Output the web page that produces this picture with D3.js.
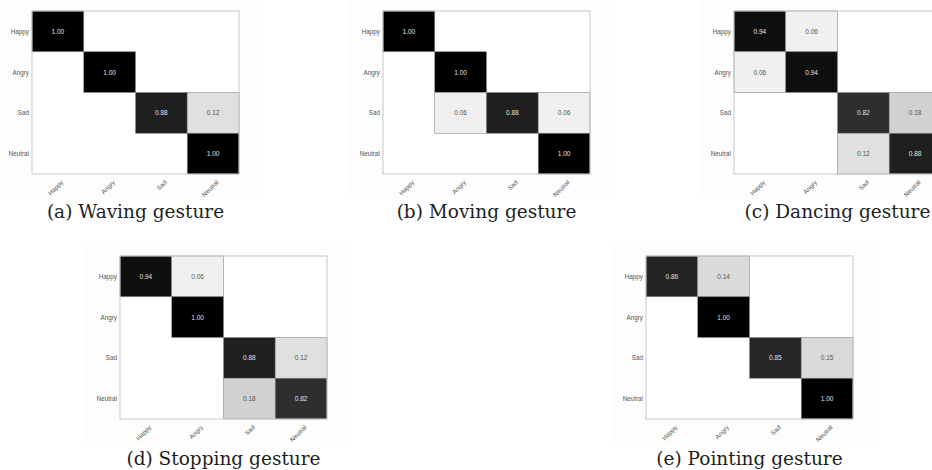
<!DOCTYPE html>
<html>
<head>
	<title></title>
	<style>
		body { margin: 0; background: #fff; }
	</style>
</head>
<body>

<svg id="fig" width="932" height="470"></svg>

<script src="https://d3js.org/d3.v7.min.js"></script>
<script>
	// -------------------------------------------------------------
	// Confusion matrices for the five gestures
	// -------------------------------------------------------------

	const classes = ['Happy', 'Angry', 'Sad', 'Neutral']

	// rows = true class, columns = predicted class
	const waving = [
		[1.00, 0, 0, 0],
		[0, 1.00, 0, 0],
		[0, 0, 0.88, 0.12],
		[0, 0, 0, 1.00]
	]
	const moving = [
		[1.00, 0, 0, 0],
		[0, 1.00, 0, 0],
		[0, 0.06, 0.88, 0.06],
		[0, 0, 0, 1.00]
	]
	const dancing = [
		[0.94, 0.06, 0, 0],
		[0.06, 0.94, 0, 0],
		[0, 0, 0.82, 0.18],
		[0, 0, 0.12, 0.88]
	]
	const stopping = [
		[0.94, 0.06, 0, 0],
		[0, 1.00, 0, 0],
		[0, 0, 0.88, 0.12],
		[0, 0, 0.18, 0.82]
	]
	const pointing = [
		[0.86, 0.14, 0, 0],
		[0, 1.00, 0, 0],
		[0, 0, 0.85, 0.15],
		[0, 0, 0, 1.00]
	]

	const captions = [
		'(a) Waving gesture',
		'(b) Moving gesture',
		'(c) Dancing gesture',
		'(d) Stopping gesture',
		'(e) Pointing gesture'
	]
	const matrices = [waving, moving, dancing, stopping, pointing]

	// where each plot box sits on the page
	const layout = [
		{ x: 32, y: 11, capY: 218 },
		{ x: 383, y: 11, capY: 218 },
		{ x: 734, y: 11, capY: 218 },
		{ x: 120, y: 256, capY: 465 },
		{ x: 646, y: 256, capY: 465 }
	]
	const W = 207
	const H = 163

	const svg = d3.select('#fig')

	// white -> black by value
	const fill = d3.scaleLinear().domain([0, 1]).range(['#ffffff', '#000000'])

	const x = d3.scaleBand().domain(classes).range([0, W])
	const y = d3.scaleBand().domain(classes).range([0, H])

	const sans = 'Liberation Sans, Arial, sans-serif'

	matrices.forEach((m, k) => {
		const pos = layout[k]
		const g = svg.append('g')
			.attr('transform', `translate(${pos.x}, ${pos.y})`)

		// very faint plot background
		g.append('rect')
			.attr('x', -35).attr('y', -11)
			.attr('width', W + 60).attr('height', H + 35)
			.attr('fill', '#fdfdfd')
		g.append('rect')
			.attr('width', W).attr('height', H)
			.attr('fill', '#fff')

		// flatten matrix into cells
		const cells = []
		m.forEach((row, i) => row.forEach((v, j) => {
			cells.push({ row: classes[i], col: classes[j], v: v })
		}))
		const filled = cells.filter(d => d.v > 0)

		g.selectAll('rect.cell')
			.data(filled)
			.enter()
			.append('rect')
			.attr('class', 'cell')
			.attr('x', d => x(d.col))
			.attr('y', d => y(d.row))
			.attr('width', x.bandwidth())
			.attr('height', y.bandwidth())
			.attr('fill', d => fill(d.v))
			.attr('stroke', '#8a8a8a')
			.attr('stroke-width', 0.6)

		g.selectAll('text.val')
			.data(filled)
			.enter()
			.append('text')
			.attr('class', 'val')
			.attr('x', d => x(d.col) + x.bandwidth() / 2)
			.attr('y', d => y(d.row) + y.bandwidth() / 2)
			.attr('text-anchor', 'middle')
			.attr('dominant-baseline', 'central')
			.attr('font-family', sans)
			.attr('font-size', 6.5)
			.attr('fill', d => d.v > 0.5 ? '#e0e0e0' : '#555')
			.text(d => d.v.toFixed(2))

		// plot border
		g.append('rect')
			.attr('width', W).attr('height', H)
			.attr('fill', 'none')
			.attr('stroke', '#c8c8c8')
			.attr('stroke-width', 1)

		// y labels
		g.selectAll('text.ylab')
			.data(classes)
			.enter()
			.append('text')
			.attr('class', 'ylab')
			.attr('x', -3)
			.attr('y', d => y(d) + y.bandwidth() / 2)
			.attr('text-anchor', 'end')
			.attr('dominant-baseline', 'central')
			.attr('font-family', sans)
			.attr('font-size', 6.3)
			.attr('fill', '#555')
			.text(d => d)

		// x labels, rotated
		g.selectAll('text.xlab')
			.data(classes)
			.enter()
			.append('text')
			.attr('class', 'xlab')
			.attr('transform', d => `translate(${x(d) + x.bandwidth() / 2 + 4}, ${H + 7}) rotate(-45)`)
			.attr('text-anchor', 'end')
			.attr('dominant-baseline', 'central')
			.attr('font-family', sans)
			.attr('font-size', 6.3)
			.attr('fill', '#555')
			.text(d => d)

		// caption
		svg.append('text')
			.attr('x', pos.x + W / 2)
			.attr('y', pos.capY)
			.attr('text-anchor', 'middle')
			.attr('font-family', 'DejaVu Serif, serif')
			.attr('font-size', 18.5)
			.attr('fill', '#1e1e1e')
			.text(captions[k])
	})
</script>
</body>
</html>
